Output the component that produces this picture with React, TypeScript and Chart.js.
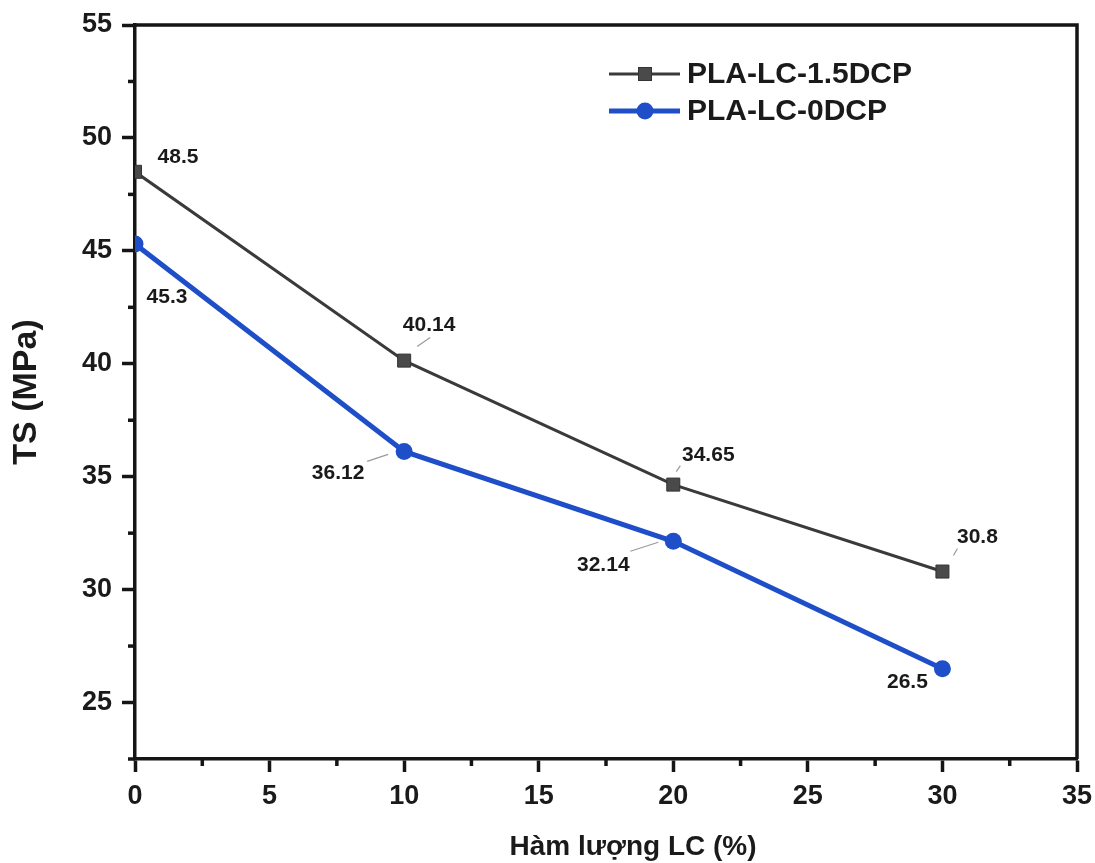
import React, { useEffect, useRef } from 'react';
import { Chart, registerables } from 'chart.js';

Chart.register(...registerables);

// ---- data ----
const lcContent = [0, 10, 20, 30];
const tsDCP15 = [48.5, 40.14, 34.65, 30.8];
const tsDCP0 = [45.3, 36.12, 32.14, 26.5];
const seriesNames = ['PLA-LC-1.5DCP', 'PLA-LC-0DCP'];
const xAxisTitle = 'Hàm lượng LC (%)';
const yAxisTitle = 'TS (MPa)';
const xLimits = [0, 35];
const yLimits = [22.5, 55];
const tickStep = 2.5;
const labelEvery = 5;

// label placement (offsets from the point, in px) and optional leader line
const labelPlacement: [number, number, number[] | null][][] = [
  [
    [43, -15, null],
    [25, -35, [13, -14, 26, -23]],
    [35, -29, [3, -13, 7, -19]],
    [35, -34, [11, -16, 15, -23]],
  ],
  [
    [32, 53, null],
    [-66, 22, [-37, 10, -16, 3]],
    [-70, 24, [-43, 10, -15, 1]],
    [-35, 14, null],
  ],
];

const FONT = "'Liberation Sans', Arial, Helvetica, sans-serif";
const GRAY_LINE = '#3a3a3a';
const GRAY_MARK = '#4a4a4a';
const BLUE = '#1f4fc8';
const AXIS = '#151515';

const framePlugin = {
  id: 'framePlugin',
  afterDatasetsDraw(chart: any) {
    const { ctx, chartArea: a } = chart;
    const xs = chart.scales.x;
    const ys = chart.scales.y;
    ctx.save();
    ctx.strokeStyle = AXIS;
    ctx.lineWidth = 3.5;
    ctx.beginPath();
    ctx.moveTo(a.left, a.top);
    ctx.lineTo(a.right, a.top);
    ctx.lineTo(a.right, a.bottom);
    ctx.stroke();
    // minor ticks
    ctx.lineWidth = 3.5;
    for (let v = xLimits[0]; v <= xLimits[1] + 1e-9; v += tickStep) {
      if (Math.abs(v / labelEvery - Math.round(v / labelEvery)) < 1e-6) continue;
      const px = xs.getPixelForValue(v);
      ctx.beginPath();
      ctx.moveTo(px, a.bottom);
      ctx.lineTo(px, a.bottom + 7);
      ctx.stroke();
    }
    for (let v = yLimits[0]; v <= yLimits[1] + 1e-9; v += tickStep) {
      if (Math.abs(v / labelEvery - Math.round(v / labelEvery)) < 1e-6) continue;
      const py = ys.getPixelForValue(v);
      ctx.beginPath();
      ctx.moveTo(a.left, py);
      ctx.lineTo(a.left - 7, py);
      ctx.stroke();
    }
    // data labels
    ctx.font = `bold 21px ${FONT}`;
    ctx.fillStyle = '#1a1a1a';
    ctx.textAlign = 'center';
    ctx.textBaseline = 'middle';
    chart.data.datasets.forEach((ds: any, di: number) => {
      const meta = chart.getDatasetMeta(di);
      meta.data.forEach((pt: any, i: number) => {
        const [dx, dy, lead] = labelPlacement[di][i];
        const v = ds.data[i].y;
        ctx.fillText(String(v), pt.x + dx, pt.y + dy);
        if (lead) {
          ctx.save();
          ctx.strokeStyle = '#9a9a9a';
          ctx.lineWidth = 1.2;
          ctx.beginPath();
          ctx.moveTo(pt.x + lead[0], pt.y + lead[1]);
          ctx.lineTo(pt.x + lead[2], pt.y + lead[3]);
          ctx.stroke();
          ctx.restore();
        }
      });
    });
    // axis titles
    ctx.fillStyle = '#1a1a1a';
    ctx.font = `bold 28px ${FONT}`;
    ctx.fillText(xAxisTitle, (a.left + a.right) / 2 + 27, 847);
    ctx.save();
    ctx.translate(27, (a.top + a.bottom) / 2);
    ctx.rotate(-Math.PI / 2);
    ctx.font = `bold 34px ${FONT}`;
    ctx.fillText(yAxisTitle, 0, 0);
    ctx.restore();
    // legend
    const lx0 = 609, lx1 = 680, mx = 645, tx = 687;
    const rows = [74, 111];
    chart.data.datasets.forEach((ds: any, di: number) => {
      const y = rows[di];
      ctx.save();
      ctx.strokeStyle = ds.borderColor;
      ctx.lineWidth = ds.borderWidth;
      ctx.beginPath();
      ctx.moveTo(lx0, y);
      ctx.lineTo(lx1, y);
      ctx.stroke();
      ctx.fillStyle = ds.pointBackgroundColor;
      ctx.strokeStyle = ds.pointBorderColor;
      ctx.lineWidth = 1;
      if (ds.pointStyle === 'rect') {
        ctx.fillRect(mx - 6.5, y - 6.5, 13, 13);
        ctx.strokeRect(mx - 6.5, y - 6.5, 13, 13);
      } else {
        ctx.beginPath();
        ctx.arc(mx, y, 8.5, 0, Math.PI * 2);
        ctx.fill();
      }
      ctx.fillStyle = '#1a1a1a';
      ctx.font = `bold 30px ${FONT}`;
      ctx.textAlign = 'left';
      ctx.textBaseline = 'middle';
      ctx.fillText(ds.label, tx, y + 1);
      ctx.restore();
    });
    ctx.restore();
  },
};

const isMajor = (v: number) => Math.abs(v / labelEvery - Math.round(v / labelEvery)) < 1e-6;

const zeroPad = (s: any) => {
  s.paddingLeft = 0;
  s.paddingRight = 0;
  s.paddingTop = 0;
  s.paddingBottom = 0;
};

export default function App() {
  const ref = useRef<HTMLCanvasElement | null>(null);
  useEffect(() => {
    document.body.style.margin = '0';
    const canvas = ref.current!;
    const tickFont = { family: FONT, size: 27, weight: 'bold' as const };
    const chart = new Chart(canvas, {
      type: 'line',
      data: {
        datasets: [
          {
            label: seriesNames[0],
            data: lcContent.map((x, i) => ({ x, y: tsDCP15[i] })),
            borderColor: GRAY_LINE,
            borderWidth: 3,
            pointStyle: 'rect',
            pointRadius: 9.2,
            pointBackgroundColor: GRAY_MARK,
            pointBorderColor: '#333333',
            pointBorderWidth: 1,
            tension: 0,
            clip: 0,
          } as any,
          {
            label: seriesNames[1],
            data: lcContent.map((x, i) => ({ x, y: tsDCP0[i] })),
            borderColor: BLUE,
            borderWidth: 5,
            pointStyle: 'circle',
            pointRadius: 8.5,
            pointBackgroundColor: BLUE,
            pointBorderColor: BLUE,
            pointBorderWidth: 0,
            tension: 0,
            clip: 0,
          } as any,
        ],
      },
      options: {
        responsive: false,
        animation: false,
        devicePixelRatio: 1,
        layout: { padding: { left: 0, top: 25, right: 18, bottom: 0 } },
        plugins: { legend: { display: false }, tooltip: { enabled: false } },
        scales: {
          x: {
            type: 'linear',
            min: xLimits[0],
            max: xLimits[1],
            afterFit: (s: any) => { s.height = 104; zeroPad(s); },
            ticks: {
              stepSize: tickStep,
              autoSkip: false,
              maxRotation: 0,
              padding: 8,
              color: '#1a1a1a',
              font: tickFont,
              callback: (v: any) => (isMajor(Number(v)) ? String(v) : ''),
            },
            grid: {
              drawOnChartArea: false,
              drawTicks: true,
              tickLength: 13,
              tickWidth: 3.5,
              tickColor: (c: any) => (c.tick && isMajor(c.tick.value) ? AXIS : 'rgba(0,0,0,0)'),
            },
            border: { display: true, color: AXIS, width: 3.5 },
          },
          y: {
            type: 'linear',
            min: yLimits[0],
            max: yLimits[1],
            afterFit: (s: any) => { s.width = 135; zeroPad(s); },
            ticks: {
              stepSize: tickStep,
              autoSkip: false,
              padding: 10,
              color: '#1a1a1a',
              font: tickFont,
              callback: (v: any) => (isMajor(Number(v)) ? String(v) : ''),
            },
            grid: {
              drawOnChartArea: false,
              drawTicks: true,
              tickLength: 13,
              tickWidth: 3.5,
              tickColor: (c: any) => (c.tick && isMajor(c.tick.value) ? AXIS : 'rgba(0,0,0,0)'),
            },
            border: { display: true, color: AXIS, width: 3.5 },
          },
        },
      } as any,
      plugins: [framePlugin],
    });
    return () => chart.destroy();
  }, []);
  return (
    <div style={{ width: 1095, height: 863, background: '#fff' }}>
      <canvas ref={ref} width={1095} height={863} style={{ display: 'block' }} />
    </div>
  );
}
